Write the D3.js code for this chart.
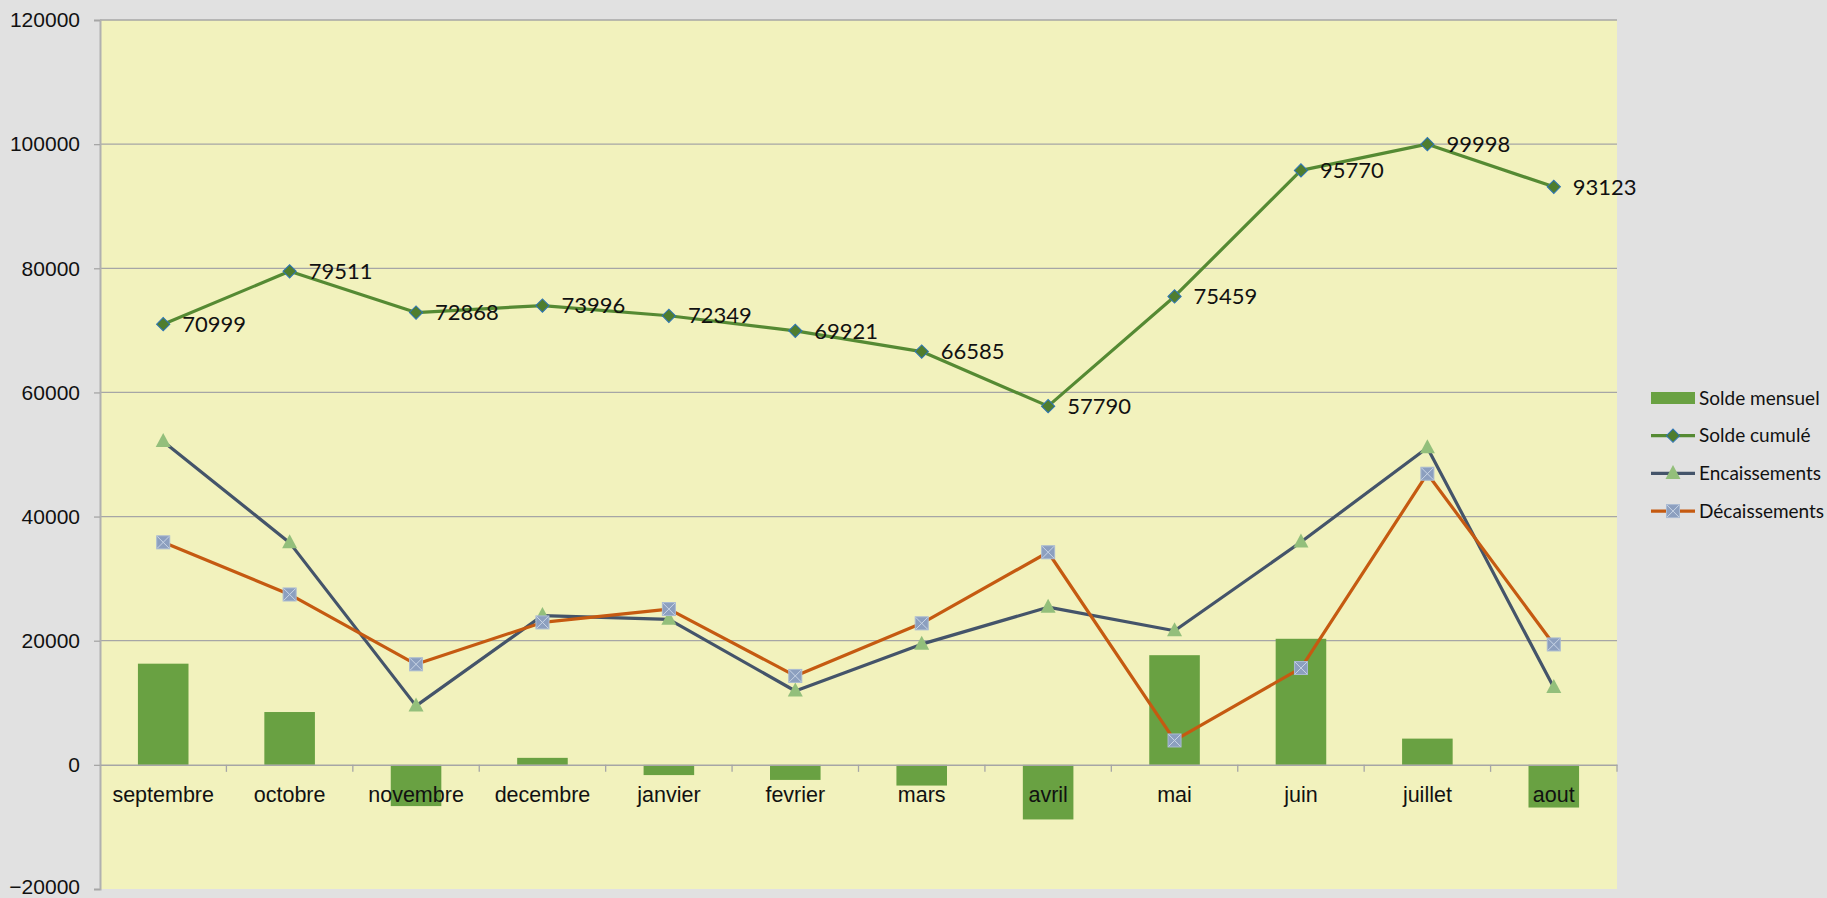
<!DOCTYPE html>
<html>
<head>
<meta charset="utf-8">
<script src="https://cdn.jsdelivr.net/npm/d3@7"></script>
<style>
  body { margin: 0; background: #e1e1e1; }
  svg { display: block; font-family: Lato, "Open Sans", sans-serif; }
</style>
</head>
<body>
<svg id="chart" width="1827" height="898"></svg>
<script>
// months of the fiscal year
const months = ['septembre', 'octobre', 'novembre', 'decembre', 'janvier', 'fevrier',
  'mars', 'avril', 'mai', 'juin', 'juillet', 'aout'];

const soldeMensuel = [16300, 8512, -6643, 1128, -1647, -2428, -3336, -8795, 17669, 20311, 4228, -6875];
const soldeCumule = [70999, 79511, 72868, 73996, 72349, 69921, 66585, 57790, 75459, 95770, 99998, 93123];
const encaissements = [52100, 35800, 9500, 24050, 23450, 11900, 19450, 25400, 21600, 35900, 51100, 12450];
const decaissements = [35850, 27450, 16200, 22950, 25100, 14330, 22800, 34250, 3930, 15600, 46900, 19400];

const yTicks = [-20000, 0, 20000, 40000, 60000, 80000, 100000, 120000];
const seriesNames = ['Solde mensuel', 'Solde cumulé', 'Encaissements', 'Décaissements'];

const svg = d3.select('#chart');
const plot = { left: 100, right: 1617, top: 20, bottom: 889 };

const x = d3.scaleBand().domain(months).range([plot.left, plot.right]).padding(0);
const y = d3.scaleLinear().domain([-20000, 120000]).range([plot.bottom, plot.top]);

const col = {
  bar: '#69a142',
  cumul: '#558a33',
  enc: '#44546a',
  dec: '#c55a11',
  grid: '#a6a6a6'
};

// plot background
svg.append('rect')
  .attr('x', plot.left).attr('y', plot.top)
  .attr('width', plot.right - plot.left).attr('height', plot.bottom - plot.top)
  .attr('fill', '#f2f2bd');

// gridlines
svg.append('g').selectAll('line')
  .data(yTicks.filter(t => t !== 0 && t !== -20000))
  .enter().append('line')
    .attr('x1', plot.left).attr('x2', plot.right)
    .attr('y1', d => y(d)).attr('y2', d => y(d))
    .attr('stroke', col.grid).attr('stroke-width', 1.3);

// y axis
const yAxis = svg.append('g')
  .attr('transform', `translate(${plot.left},0)`)
  .call(d3.axisLeft(y).tickValues(yTicks).tickSize(6).tickPadding(14).tickFormat(d3.format('d')));
yAxis.select('.domain').attr('stroke', '#b0b0b0').attr('stroke-width', 2);
yAxis.selectAll('.tick line').attr('stroke', '#a6a6a6').attr('stroke-width', 1.3);
yAxis.selectAll('.tick text').attr('font-size', 21).attr('fill', '#111')
  .attr('dy', d => d === -20000 ? '0.2em' : '0.32em');

// bars
const barW = x.bandwidth() * 0.4;
svg.append('g').selectAll('rect')
  .data(soldeMensuel)
  .enter().append('rect')
    .attr('x', (d, i) => x(months[i]) + (x.bandwidth() - barW) / 2)
    .attr('y', d => y(Math.max(0, d)))
    .attr('width', barW)
    .attr('height', d => Math.abs(y(d) - y(0)))
    .attr('fill', col.bar);

// x axis at zero
const xAxis = svg.append('g')
  .attr('transform', `translate(0,${y(0)})`)
  .call(d3.axisBottom(x).tickSize(0).tickPadding(22));
xAxis.select('.domain').attr('stroke', '#a6a6a6').attr('stroke-width', 1.5);
xAxis.selectAll('.tick text').attr('font-size', 21.5).attr('fill', '#111');
svg.append('g').selectAll('line')
  .data(months.slice(1).concat(['end']))
  .enter().append('line')
    .attr('x1', d => d === 'end' ? plot.right : x(d))
    .attr('x2', d => d === 'end' ? plot.right : x(d))
    .attr('y1', y(0)).attr('y2', y(0) + 7)
    .attr('stroke', '#a6a6a6').attr('stroke-width', 1.3);

const cx = i => x(months[i]) + x.bandwidth() / 2;
const line = d3.line().x((d, i) => cx(i)).y(d => y(d));

function drawLine(values, color) {
  svg.append('path')
    .datum(values)
    .attr('d', line)
    .attr('fill', 'none')
    .attr('stroke', color)
    .attr('stroke-width', 3.2)
    .attr('stroke-linejoin', 'round');
}

// markers
function diamond(g) {
  g.append('rect').attr('x', -4.7).attr('y', -4.7).attr('width', 9.4).attr('height', 9.4)
    .attr('transform', 'rotate(45)')
    .attr('fill', '#4f7d2e').attr('stroke', '#2e75b6').attr('stroke-width', 1);
}
function triangle(g) {
  g.append('path').attr('d', 'M0,-8.5L7.5,5.5L-7.5,5.5Z').attr('fill', '#93bf7b');
}
function crossSquare(g) {
  g.append('rect').attr('x', -6.5).attr('y', -6.5).attr('width', 13).attr('height', 13)
    .attr('fill', '#8c9fbf').attr('stroke', '#a9bad2').attr('stroke-width', 1);
  g.append('path').attr('d', 'M-6,-6L6,6M6,-6L-6,6')
    .attr('stroke', '#c9d5e6').attr('stroke-width', 1);
}

function drawMarkers(values, shape) {
  values.forEach((v, i) => {
    const g = svg.append('g').attr('transform', `translate(${cx(i)},${y(v)})`);
    shape(g);
  });
}

drawLine(encaissements, col.enc);
drawLine(decaissements, col.dec);
drawLine(soldeCumule, col.cumul);
drawMarkers(encaissements, triangle);
drawMarkers(decaissements, crossSquare);
drawMarkers(soldeCumule, diamond);

// data labels for solde cumulé
svg.append('g').selectAll('text')
  .data(soldeCumule)
  .enter().append('text')
    .attr('x', (d, i) => cx(i) + 19)
    .attr('y', d => y(d))
    .attr('dy', '0.35em')
    .attr('font-size', 22)
    .attr('fill', '#111')
    .text(d => d);

// legend
const legend = svg.append('g').attr('transform', 'translate(1651,398)');
seriesNames.forEach((name, i) => {
  const g = legend.append('g').attr('transform', `translate(0,${i * 37.7})`);
  if (i === 0) {
    g.append('rect').attr('x', 0).attr('y', -6).attr('width', 44).attr('height', 12).attr('fill', col.bar);
  } else {
    const c = [null, col.cumul, col.enc, col.dec][i];
    g.append('line').attr('x1', 0).attr('x2', 44).attr('y1', 0).attr('y2', 0)
      .attr('stroke', c).attr('stroke-width', 3.2);
    const m = g.append('g').attr('transform', 'translate(22,0)');
    [null, diamond, triangle, crossSquare][i](m);
  }
  g.append('text').attr('x', 48).attr('dy', '0.35em')
    .attr('font-size', 19).attr('fill', '#111').text(name);
});
</script>
</body>
</html>
